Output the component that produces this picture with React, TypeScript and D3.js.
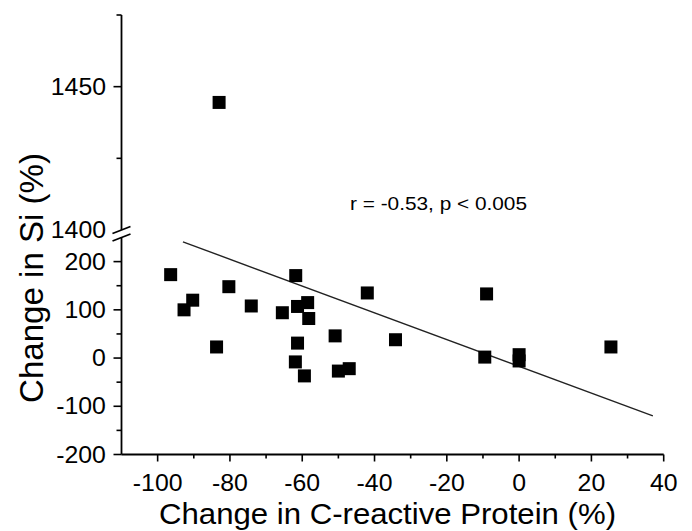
import * as d3 from 'd3'

const width = 692
const height = 531

// change in C-reactive protein (%) vs change in Si (%)
const crpChange = [
  -96.4, -90.3, -92.7, -80.3, -74.1, -83.7, -61.8, -65.5, -61.3, -58.5, -58.2, -61.3, -61.9,
  -59.4, -50.9, -50, -47, -42, -34.2, -9, -9.5, 0, 0, 25.4, -83,
]
const siChange = [
  173, 120, 100, 148, 108, 23, 171, 94, 107, 115, 82, 31, -8, -37, 46, -27, -22, 135, 38, 133, 2,
  7, -6, 23, 1444.5,
]

// regression line end points
const fitX = [-93, 37]
const fitY = [241, -120]

const xTicks = [-100, -80, -60, -40, -20, 0, 20, 40]
const xMinorTicks = [-90, -70, -50, -30, -10, 10, 30]
const yLowTicks = [-200, -100, 0, 100, 200]
const yLowMinorTicks = [-150, -50, 50, 150]
const yHighTicks = [1450]
const yHighMinorTicks = [1425, 1475]
const yHighLabels = [1400, 1450]

const statLabel = 'r = -0.53, p < 0.005'
const xTitle = 'Change in C-reactive Protein (%)'
const yTitle = 'Change in Si (%)'

const font = '"Liberation Sans", Arial, sans-serif'

function App() {
  const x = d3.scaleLinear().domain([-110, 40]).range([121.5, 663.7])
  const yLow = d3.scaleLinear().domain([-200, 250]).range([454.5, 237.5])
  const yHigh = d3.scaleLinear().domain([1400, 1475]).range([230, 15])
  const y = (v) => (v >= 1000 ? yHigh(v) : yLow(v))

  const axisX = x(-110)
  const baseY = yLow(-200)
  const size = 13
  const line = d3
    .line()
    .x((d) => x(d[0]))
    .y((d) => yLow(d[1]))

  return (
    <svg
      width={width}
      height={height}
      style={{ position: 'absolute', left: 0, top: 0, background: '#fff' }}
      fontFamily={font}
    >
      <rect width={width} height={height} fill="#fff" />

      {/* y axis, two segments with a break */}
      <line x1={axisX} x2={axisX} y1={yHigh(1475)} y2={yHigh(1400)} stroke="#000" strokeWidth={1.8} />
      <line x1={axisX} x2={axisX} y1={yLow(250)} y2={baseY} stroke="#000" strokeWidth={1.8} />
      {[yHigh(1400), yLow(250)].map((yy, i) => (
        <line
          key={i}
          x1={axisX - 9}
          x2={axisX + 9}
          y1={yy + 3.5}
          y2={yy - 3.5}
          stroke="#000"
          strokeWidth={1.8}
        />
      ))}

      {yLowTicks.map((t) => (
        <g key={t} transform={`translate(${axisX},${yLow(t)})`}>
          <line x1={-8} x2={0} stroke="#000" strokeWidth={1.6} />
          <text x={-14.5} dy=".35em" fontSize={23} textAnchor="end" transform="scale(1.08,1)">
            {t}
          </text>
        </g>
      ))}
      {yLowMinorTicks.map((t) => (
        <line key={t} x1={axisX - 5} x2={axisX} y1={yLow(t)} y2={yLow(t)} stroke="#000" strokeWidth={1.6} />
      ))}
      {yHighTicks.map((t) => (
        <line key={t} x1={axisX - 8} x2={axisX} y1={yHigh(t)} y2={yHigh(t)} stroke="#000" strokeWidth={1.6} />
      ))}
      {yHighMinorTicks.map((t) => (
        <line key={t} x1={axisX - 5} x2={axisX} y1={yHigh(t)} y2={yHigh(t)} stroke="#000" strokeWidth={1.6} />
      ))}
      {yHighLabels.map((t) => (
        <text
          key={t}
          fontSize={23}
          textAnchor="end"
          dy=".35em"
          transform={`translate(${axisX - 15.5},${yHigh(t)}) scale(1.08,1)`}
        >
          {t}
        </text>
      ))}

      {/* x axis */}
      <line x1={axisX} x2={x(40)} y1={baseY} y2={baseY} stroke="#000" strokeWidth={1.8} />
      {xTicks.map((t) => (
        <g key={t} transform={`translate(${x(t)},${baseY})`}>
          <line y1={0} y2={7} stroke="#000" strokeWidth={1.6} />
          <text y={37} fontSize={23} textAnchor="middle" transform="scale(1.08,1)">
            {t}
          </text>
        </g>
      ))}
      {xMinorTicks.map((t) => (
        <line key={t} x1={x(t)} x2={x(t)} y1={baseY} y2={baseY + 4} stroke="#000" strokeWidth={1.6} />
      ))}

      {/* regression line */}
      <path d={line(fitX.map((v, i) => [v, fitY[i]]))} fill="none" stroke="#222" strokeWidth={1.4} />

      {/* points */}
      {crpChange.map((v, i) => (
        <rect
          key={i}
          x={x(v) - size / 2}
          y={y(siChange[i]) - size / 2}
          width={size}
          height={size}
          fill="#000"
        />
      ))}

      <text x={350} y={210} fontSize={18} textLength={177} lengthAdjust="spacingAndGlyphs">
        {statLabel}
      </text>

      <text x={159} y={524} fontSize={29} textLength={457} lengthAdjust="spacingAndGlyphs">
        {xTitle}
      </text>
      <text
        transform="translate(43,403) rotate(-90)"
        fontSize={33}
        textLength={250}
        lengthAdjust="spacingAndGlyphs"
      >
        {yTitle}
      </text>
    </svg>
  )
}

export default App
